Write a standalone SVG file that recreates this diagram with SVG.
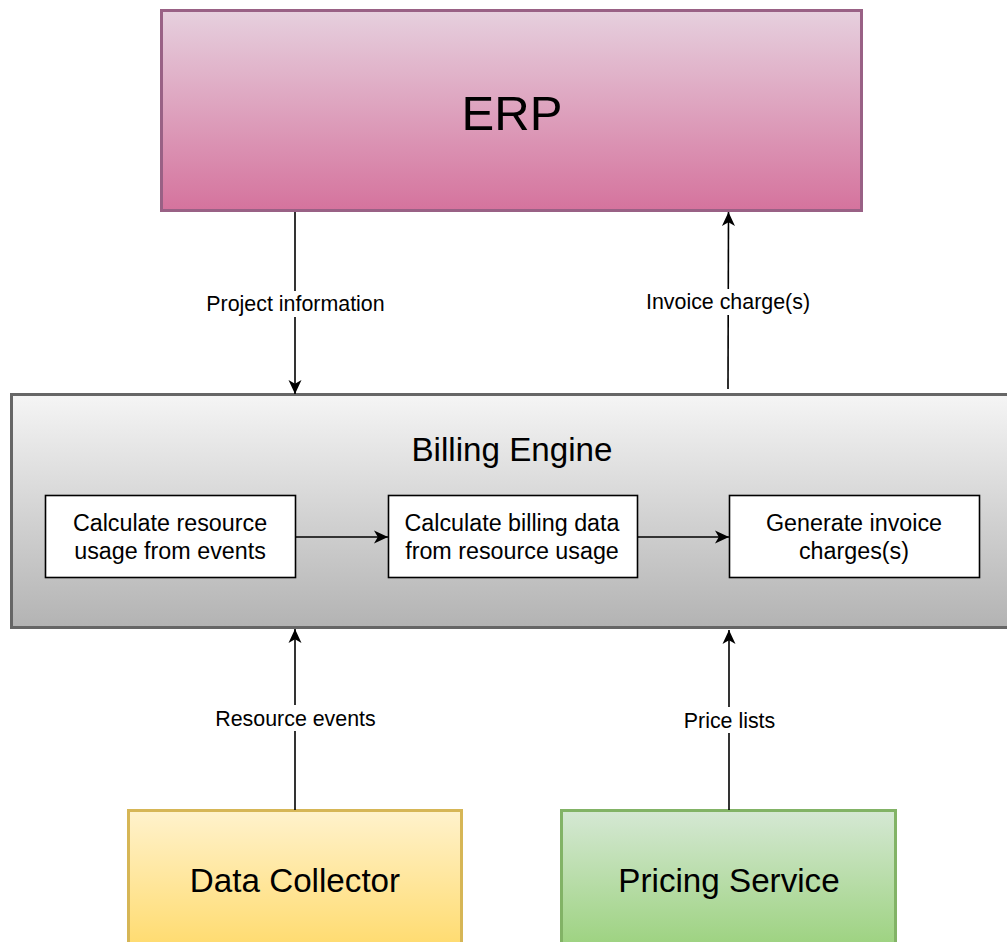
<svg xmlns="http://www.w3.org/2000/svg" width="1007" height="942" viewBox="0 0 1007 942">
  <defs>
    <linearGradient id="gPink" x1="0" y1="0" x2="0" y2="1">
      <stop offset="0" stop-color="#e6d0de"/>
      <stop offset="1" stop-color="#d5739d"/>
    </linearGradient>
    <linearGradient id="gGrey" x1="0" y1="0" x2="0" y2="1">
      <stop offset="0" stop-color="#f5f5f5"/>
      <stop offset="1" stop-color="#b3b3b3"/>
    </linearGradient>
    <linearGradient id="gYellow" x1="0" y1="0" x2="0" y2="1">
      <stop offset="0" stop-color="#fff2cc"/>
      <stop offset="1" stop-color="#ffd966"/>
    </linearGradient>
    <linearGradient id="gGreen" x1="0" y1="0" x2="0" y2="1">
      <stop offset="0" stop-color="#d5e8d4"/>
      <stop offset="1" stop-color="#97d077"/>
    </linearGradient>
    <marker id="arrow" markerUnits="userSpaceOnUse" markerWidth="15" markerHeight="14" refX="14" refY="7" orient="auto">
      <path d="M0,0.5 L14,7 L0,13.5 L3.8,7 Z" fill="#000"/>
    </marker>
  </defs>
  <style>
    text { font-family: "Liberation Sans", Arial, sans-serif; fill: #000; text-anchor: middle; }
    .big { font-size: 33.2px; }
    .step { font-size: 23.3px; }
    .lbl { font-size: 21.4px; }
    .edge { stroke: #000; stroke-width: 1.6; fill: none; marker-end: url(#arrow); }
    .step-box { fill: #fff; stroke: #000; stroke-width: 1.6; }
  </style>
  <rect width="1007" height="942" fill="#fff"/>

  <g id="erp">
    <rect x="161.5" y="10.5" width="700" height="200" fill="url(#gPink)" stroke="#996185" stroke-width="3"/>
    <text x="512" y="130" font-size="49">ERP</text>
  </g>

  <g id="billing-engine">
    <rect x="11.5" y="394.5" width="1010" height="233" fill="url(#gGrey)" stroke="#666666" stroke-width="3"/>
    <text class="big" x="512" y="461">Billing Engine</text>
  </g>

  <g id="step-usage">
    <rect class="step-box" x="45.5" y="495.5" width="250" height="82"/>
    <text class="step" x="170" y="531">Calculate resource</text>
    <text class="step" x="170" y="559">usage from events</text>
  </g>

  <g id="step-billing">
    <rect class="step-box" x="388.5" y="495.5" width="249" height="82"/>
    <text class="step" x="512" y="531">Calculate billing data</text>
    <text class="step" x="512" y="559">from resource usage</text>
  </g>

  <g id="step-invoice">
    <rect class="step-box" x="729.5" y="495.5" width="250" height="82"/>
    <text class="step" x="854" y="531">Generate invoice</text>
    <text class="step" x="854" y="559">charges(s)</text>
  </g>

  <g id="data-collector">
    <rect x="128.5" y="810.5" width="333" height="150" fill="url(#gYellow)" stroke="#d6b656" stroke-width="3"/>
    <text class="big" x="295" y="892">Data Collector</text>
  </g>

  <g id="pricing-service">
    <rect x="561.5" y="810.5" width="334" height="150" fill="url(#gGreen)" stroke="#82b366" stroke-width="3"/>
    <text class="big" x="729" y="892">Pricing Service</text>
  </g>

  <g id="connectors">
    <path class="edge" d="M295,212 L295,394"/>
    <path class="edge" d="M728,389 L728.5,212"/>
    <path class="edge" d="M295,810 L295,629"/>
    <path class="edge" d="M729,810 L729,630"/>
    <path class="edge" d="M296,537 L388,537"/>
    <path class="edge" d="M638,537 L729,537"/>

    <rect x="204" y="291" width="183" height="26" fill="#fff"/>
    <text class="lbl" x="295.5" y="311">Project information</text>
    <rect x="644" y="289" width="168" height="26" fill="#fff"/>
    <text class="lbl" x="728" y="309">Invoice charge(s)</text>
    <rect x="213" y="705" width="165" height="26" fill="#fff"/>
    <text class="lbl" x="295.5" y="726">Resource events</text>
    <rect x="682" y="707" width="95" height="26" fill="#fff"/>
    <text class="lbl" x="729.5" y="728">Price lists</text>
  </g>
</svg>
